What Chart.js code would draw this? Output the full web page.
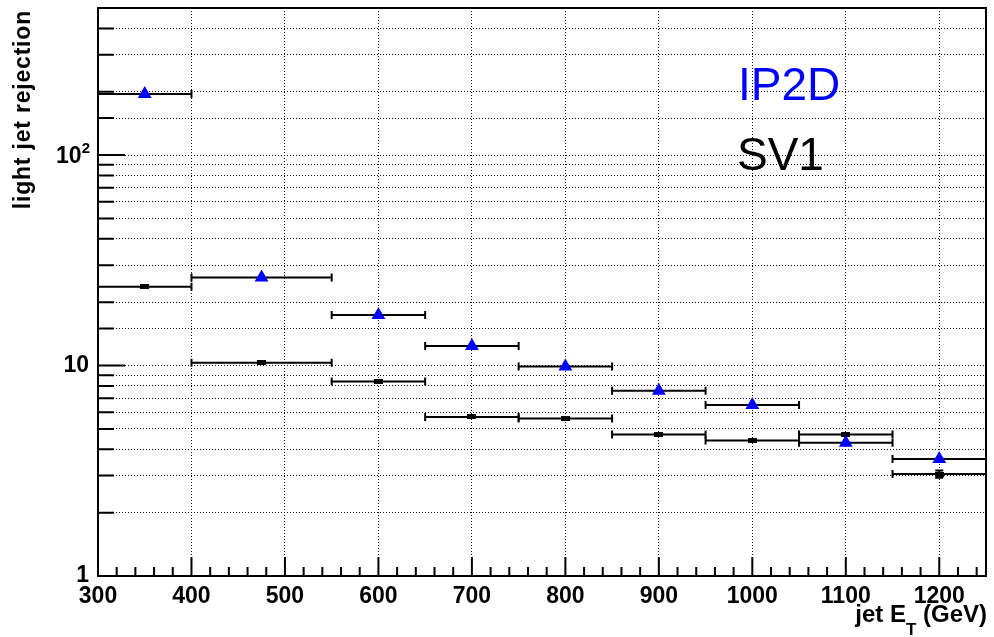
<!DOCTYPE html>
<html>
<head>
<meta charset="utf-8">
<script src="https://cdn.jsdelivr.net/npm/chart.js@4.4.1/dist/chart.umd.min.js"></script>
<style>
  body { margin: 0; background: #fff; }
  #wrap { width: 994px; height: 637px; }
</style>
</head>
<body>
<div id="wrap"><canvas id="myChart" width="994" height="637"></canvas></div>
<script>
// jet ET bins
var binCenter = [350, 475, 600, 700, 800, 900, 1000, 1100, 1200];
var binLow    = [300, 400, 550, 650, 750, 850, 950, 1050, 1150];
var binHigh   = [400, 550, 650, 750, 850, 950, 1050, 1150, 1250];

// light jet rejection
var ip2d   = [195, 26.2, 17.4, 12.4, 9.9, 7.6, 6.5, 4.3, 3.6];
var sv1    = [23.7, 10.3, 8.4, 5.7, 5.6, 4.7, 4.4, 4.7, 3.05];
var sv1Err = [0.2, 0.08, 0.06, 0.05, 0.05, 0.05, 0.05, 0.05, 0.12];

var yTickLabels = { 1: '1', 10: '10' };

var FONT = '"Liberation Sans", Arial, Helvetica, sans-serif';

function points(vals, errs) {
  return vals.map(function (v, i) {
    return { x: binCenter[i], y: v, lo: binLow[i], hi: binHigh[i], err: errs ? errs[i] : 0 };
  });
}

// small black box marker used for SV1
var box = document.createElement('canvas');
box.width = 9; box.height = 5;
var bctx = box.getContext('2d');
bctx.fillStyle = '#000';
bctx.fillRect(0, 0, 9, 5);

var errorBars = {
  id: 'errorBars',
  beforeDatasetsDraw: function (chart) {
    var ctx = chart.ctx, xs = chart.scales.x, ys = chart.scales.y;
    ctx.save();
    ctx.strokeStyle = '#000';
    ctx.lineWidth = 2;
    chart.data.datasets.forEach(function (ds) {
      ds.data.forEach(function (p) {
        var py = ys.getPixelForValue(p.y);
        var x0 = xs.getPixelForValue(p.lo), x1 = xs.getPixelForValue(p.hi);
        var px = xs.getPixelForValue(p.x);
        ctx.beginPath();
        ctx.moveTo(x0, py); ctx.lineTo(x1, py);
        ctx.moveTo(x0, py - 4); ctx.lineTo(x0, py + 4);
        ctx.moveTo(x1, py - 4); ctx.lineTo(x1, py + 4);
        ctx.stroke();
        if (p.err) {
          var ya = ys.getPixelForValue(p.y + p.err), yb = ys.getPixelForValue(p.y - p.err);
          ctx.beginPath();
          ctx.moveTo(px, ya); ctx.lineTo(px, yb);
          ctx.moveTo(px - 4, ya); ctx.lineTo(px + 4, ya);
          ctx.moveTo(px - 4, yb); ctx.lineTo(px + 4, yb);
          ctx.stroke();
        }
      });
    });
    ctx.restore();
  }
};

var frameAndText = {
  id: 'frameAndText',
  afterDraw: function (chart) {
    var ctx = chart.ctx, a = chart.chartArea, xs = chart.scales.x, ys = chart.scales.y;
    ctx.save();
    // frame
    ctx.strokeStyle = '#000';
    ctx.lineWidth = 2;
    ctx.strokeRect(a.left, a.top, a.right - a.left, a.bottom - a.top);

    // inward ticks, y axis
    ctx.beginPath();
    ys.ticks.forEach(function (t) {
      var py = ys.getPixelForValue(t.value);
      var major = Math.abs(Math.log10(t.value) - Math.round(Math.log10(t.value))) < 1e-9;
      ctx.moveTo(a.left, py);
      ctx.lineTo(a.left + (major ? 27 : 16), py);
    });
    // inward ticks, x axis
    for (var v = 300; v <= 1240; v += 20) {
      var px = xs.getPixelForValue(v);
      ctx.moveTo(px, a.bottom);
      ctx.lineTo(px, a.bottom - (v % 100 === 0 ? 19 : 9));
    }
    ctx.stroke();

    ctx.fillStyle = '#000';
    ctx.textBaseline = 'alphabetic';

    // 10^2 label
    var y100 = ys.getPixelForValue(100);
    ctx.font = 'bold 15px ' + FONT;
    var wSup = ctx.measureText('2').width;
    ctx.textAlign = 'right';
    ctx.fillText('2', a.left - 8, y100 - 2);
    ctx.font = 'bold 23px ' + FONT;
    ctx.fillText('10', a.left - 8 - wSup, y100 + 8);

    // y title
    ctx.font = 'bold 23px ' + FONT;
    ctx.letterSpacing = '0.8px';
    ctx.translate(30, 10);
    ctx.rotate(-Math.PI / 2);
    ctx.textAlign = 'right';
    ctx.fillText('light jet rejection', 0, 0);
    ctx.setTransform(1, 0, 0, 1, 0, 0);
    ctx.letterSpacing = '0px';

    // x title: jet E_T (GeV), right aligned
    ctx.textAlign = 'left';
    ctx.font = 'bold 24px ' + FONT;
    var part1 = 'jet E', part3 = ' (GeV)';
    var w1 = ctx.measureText(part1).width;
    var w3 = ctx.measureText(part3).width;
    ctx.font = 'bold 17px ' + FONT;
    var w2 = ctx.measureText('T').width;
    var right = 987, base = 622;
    var start = right - w1 - w2 - w3;
    ctx.font = 'bold 24px ' + FONT;
    ctx.fillText(part1, start, base);
    ctx.fillText(part3, start + w1 + w2, base);
    ctx.font = 'bold 17px ' + FONT;
    ctx.fillText('T', start + w1, base + 13);

    // legend text
    ctx.font = '46px ' + FONT;
    ctx.fillStyle = '#0000ff';
    ctx.fillText('IP2D', 738, 100);
    ctx.fillStyle = '#000';
    ctx.fillText('SV1', 737, 170);
    ctx.restore();
  }
};

var ctx = document.getElementById('myChart').getContext('2d');
var myChart = new Chart(ctx, {
  type: 'scatter',
  data: {
    datasets: [
      {
        label: 'IP2D',
        data: points(ip2d),
        pointStyle: 'triangle',
        pointRadius: 8,
        pointHoverRadius: 8,
        backgroundColor: '#0000ff',
        borderColor: '#0000ff',
        borderWidth: 0
      },
      {
        label: 'SV1',
        data: points(sv1, sv1Err),
        pointStyle: box,
        pointRadius: 4,
        backgroundColor: '#000',
        borderColor: '#000'
      }
    ]
  },
  options: {
    responsive: false,
    animation: false,
    events: [],
    layout: { padding: { top: 8, right: 2, left: 0, bottom: 0 } },
    plugins: {
      legend: { display: false },
      tooltip: { enabled: false }
    },
    scales: {
      x: {
        type: 'linear',
        min: 300,
        max: 1250,
        afterFit: function (s) { s.height = 61; s.paddingLeft = 0; s.paddingRight = 0; },
        ticks: {
          stepSize: 100,
          includeBounds: false,
          maxRotation: 0,
          autoSkip: false,
          padding: 7,
          color: '#000',
          font: { family: FONT, size: 23, weight: 'bold' },
          callback: function (v) { return String(v); }
        },
        grid: { color: '#111', lineWidth: 1, drawTicks: false },
        border: { display: false, dash: [1, 2] }
      },
      y: {
        type: 'logarithmic',
        min: 1,
        max: 500,
        afterFit: function (s) { s.width = 98; s.paddingTop = 0; s.paddingBottom = 0; },
        ticks: {
          autoSkip: false,
          padding: 9,
          color: '#000',
          font: { family: FONT, size: 23, weight: 'bold' },
          callback: function (v) { return yTickLabels[v] || ''; }
        },
        grid: { color: '#111', lineWidth: 1, drawTicks: false },
        border: { display: false, dash: [1, 2] }
      }
    }
  },
  plugins: [errorBars, frameAndText]
});
</script>
</body>
</html>
